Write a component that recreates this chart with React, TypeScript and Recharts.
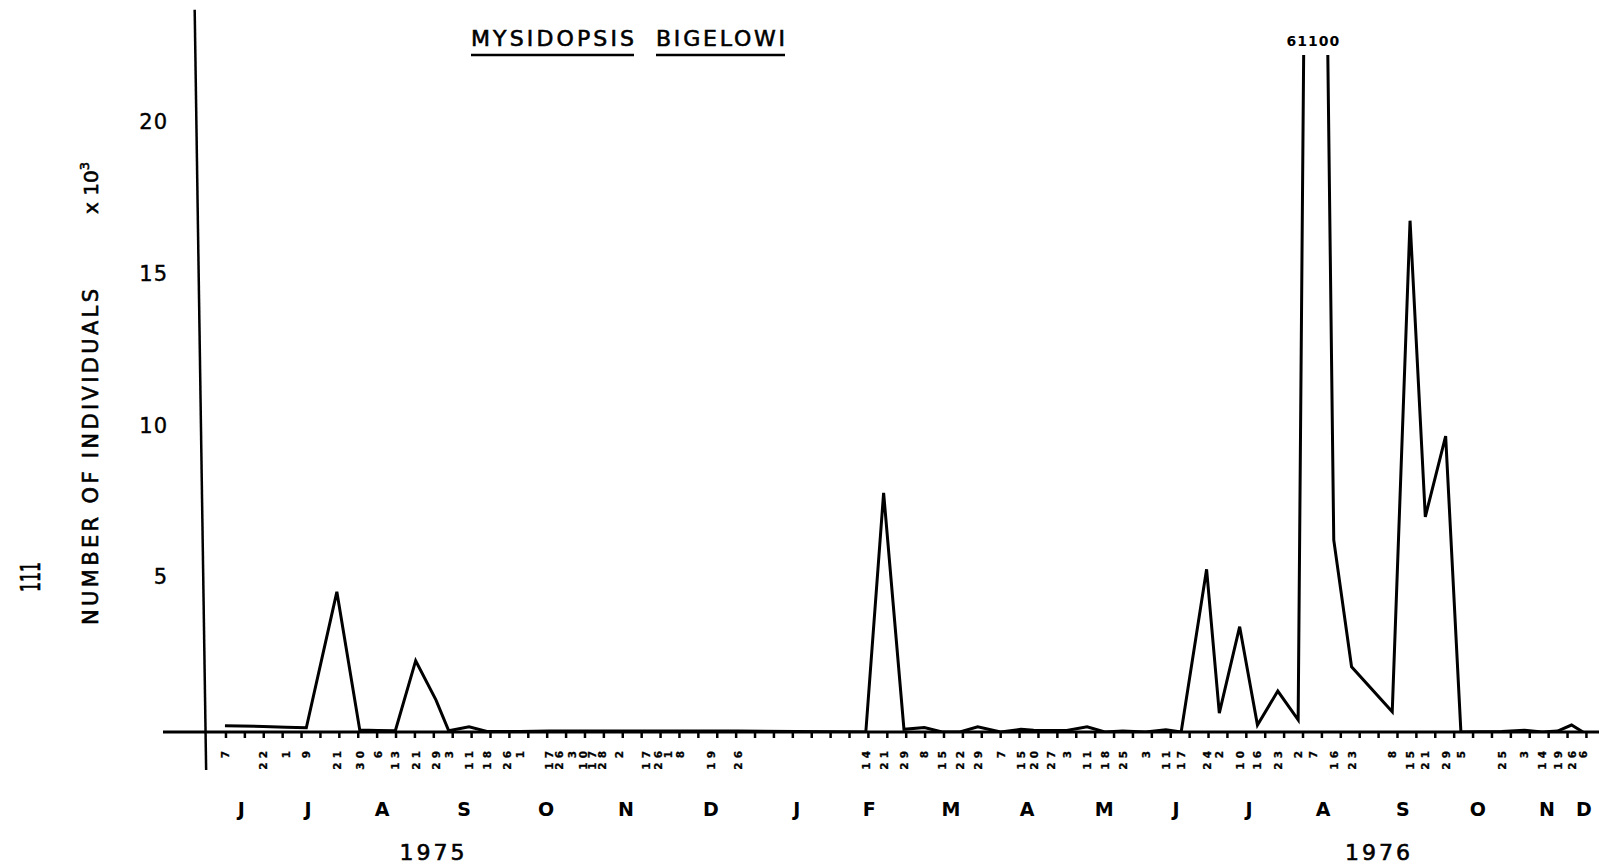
import React from 'react';
import { LineChart, Line, XAxis, YAxis, ReferenceLine, ReferenceDot } from 'recharts';

// Sampling dates (day of month), June 1975 – December 1976
const dateLabels: string[] = [
  '7', '22', '1', '9', '21', '30', '6', '13', '21', '29', '3', '11', '18', '26', '1',
  '17', '26', '3', '10', '17', '28', '2', '17', '26',
  '1', '8', '19', '26',
  '14', '21', '29', '8', '15', '22', '29', '7', '15', '20', '27', '3', '11', '18', '25',
  '3', '11', '17', '24', '2', '10', '16', '23', '2', '7', '16', '23', '8', '15', '21', '29',
  '5', '25', '3', '14', '19', '26', '6',
];

// Plotted position of each sample, in days after 1 June 1975
const plotDays: number[] = [
  6, 21, 30, 38, 50, 59, 66, 73, 81, 89, 94, 102, 109, 117, 122,
  133.4, 137.4, 142.5, 146.8, 150.3, 154.3, 161, 171.5, 176.3,
  180.2, 184.9, 197.1, 207.7,
  258, 265, 273, 281, 288, 295, 302, 311, 319, 324, 331, 337, 345, 352, 359,
  368, 376, 382, 392, 397, 405, 412, 420, 428, 434, 442, 449, 465, 472, 478, 486,
  492, 508, 517, 524, 530, 535.5, 540,
];

// Number of individuals (x 10^3)
const counts: number[] = [
  0.21, 0.18, 0.16, 0.14, 4.62, 0.07, 0.05, 0.04, 2.35, 1.05, 0.04, 0.17, 0.02, 0.02, 0.02,
  0.03, 0.03, 0.03, 0.03, 0.03, 0.03, 0.03, 0.03, 0.03,
  0.03, 0.03, 0.03, 0.03,
  0.0, 7.88, 0.09, 0.15, 0.0, 0.0, 0.17, 0.0, 0.09, 0.06, 0.05, 0.05, 0.17, 0.0, 0.03,
  0.0, 0.07, 0.0, 5.36, 0.62, 3.47, 0.23, 1.35, 0.4, 61.1, 6.33, 2.15, 0.67, 16.85, 7.09, 9.75,
  0.0, 0.02, 0.06, 0.0, 0.03, 0.23, 0.0,
];

const monthLetters: string[] = ['J', 'J', 'A', 'S', 'O', 'N', 'D', 'J', 'F', 'M', 'A', 'M', 'J', 'J', 'A', 'S', 'O', 'N', 'D'];
const monthDays: number[] = [12.4, 38.7, 67.8, 100, 132.3, 163.7, 197.1, 230.9, 259.3, 291.5, 321.4, 351.7, 380, 408.7, 437.8, 469.2, 498.7, 525.8, 540.4];

const yearLabels: string[] = ['1975', '1976'];
const yearDays: number[] = [88, 459.8];

const yTicks: number[] = [5, 10, 15, 20];

const X_MIN = -18.36;
const X_MAX = 546.3;
const Y_MAX = 22.31;

// evenly spaced tick marks along the time axis
const TICK_START = 6.4;
const TICK_STEP = 7.43;
const TICK_COUNT = 73;
const tickMarks: number[] = Array.from({ length: TICK_COUNT }, (_, i) => +(TICK_START + i * TICK_STEP).toFixed(2));

const data = plotDays.map((day, i) => ({ day, count: counts[i], label: dateLabels[i] }));
const peak = data.reduce((a, b) => (b.count > a.count ? b : a));

const FONT = 'DejaVu Sans';

const EmptyTick = () => <g />;

const DateTick = (props: any) => {
  const { x, y, index } = props;
  const y0 = y + 3;
  return (
    <text
      x={x}
      y={y0}
      transform={`rotate(-90 ${x} ${y0})`}
      textAnchor="end"
      dominantBaseline="central"
      fontFamily={FONT}
      fontWeight="bold"
      fontSize={10.5}
      letterSpacing={4}
      fill="#000"
      stroke="#000"
      strokeWidth={0.3}
    >
      {dateLabels[index]}
    </text>
  );
};

const MonthTick = (props: any) => {
  const { x, y, index } = props;
  return (
    <text x={x} y={y + 22} textAnchor="middle" fontFamily={FONT} fontWeight="bold" fontSize={19} fill="#000">
      {monthLetters[index]}
    </text>
  );
};

const YearTick = (props: any) => {
  const { x, y, index } = props;
  return (
    <text
      x={x}
      y={y + 31}
      textAnchor="middle"
      fontFamily={FONT}
      fontSize={22}
      letterSpacing={3}
      fill="#000"
      stroke="#000"
      strokeWidth={0.6}
    >
      {yearLabels[index]}
    </text>
  );
};

const YTick = (props: any) => {
  const { x, y, payload } = props;
  return (
    <text
      x={x + 5}
      y={y - 3}
      textAnchor="end"
      dominantBaseline="central"
      fontFamily={FONT}
      fontSize={21}
      letterSpacing={1}
      fill="#000"
      stroke="#000"
      strokeWidth={0.4}
    >
      {payload.value}
    </text>
  );
};

const axisCommon = {
  type: 'number' as const,
  dataKey: 'day',
  domain: [X_MIN, X_MAX] as [number, number],
  allowDataOverflow: true,
  interval: 0 as const,
};

export default function App() {
  return (
    <div style={{ position: 'absolute', left: 0, top: 0, width: 1599, height: 867, background: '#fff' }}>
      <LineChart width={1599} height={867} data={data} margin={{ top: 55, right: 0, bottom: 0, left: 123 }}>
        <XAxis
          xAxisId="d"
          {...axisCommon}
          ticks={tickMarks}
          tick={<EmptyTick />}
          tickSize={6}
          height={12}
          axisLine={{ stroke: '#000', strokeWidth: 3 }}
          tickLine={{ stroke: '#000', strokeWidth: 2.5 }}
        />
        <XAxis
          xAxisId="lab"
          {...axisCommon}
          ticks={plotDays}
          tick={DateTick}
          tickSize={0}
          tickMargin={0}
          height={50}
          axisLine={false}
          tickLine={false}
        />
        <XAxis
          xAxisId="mon"
          {...axisCommon}
          ticks={monthDays}
          tick={MonthTick}
          tickSize={0}
          tickMargin={0}
          height={35}
          axisLine={false}
          tickLine={false}
        />
        <XAxis
          xAxisId="yr"
          {...axisCommon}
          ticks={yearDays}
          tick={YearTick}
          tickSize={0}
          tickMargin={0}
          height={38}
          axisLine={false}
          tickLine={false}
        />
        <YAxis
          type="number"
          domain={[0, Y_MAX]}
          allowDataOverflow
          ticks={yTicks}
          interval={0}
          width={40}
          tickSize={0}
          tickMargin={0}
          axisLine={false}
          tickLine={false}
          tick={YTick}
        />
        <ReferenceLine
          xAxisId="d"
          segment={[{ x: -5.9, y: 23.8 }, { x: -1.4, y: -1.25 }]}
          ifOverflow="visible"
          stroke="#000"
          strokeWidth={2.5}
        />
        <Line
          xAxisId="d"
          type="linear"
          dataKey="count"
          stroke="#000"
          strokeWidth={3}
          dot={false}
          isAnimationActive={false}
        />
        <ReferenceDot
          xAxisId="d"
          x={peak.day}
          y={Y_MAX}
          r={0}
          ifOverflow="visible"
          label={{
            value: String(Math.round(peak.count * 1000)),
            position: 'top',
            offset: 9,
            fill: '#000',
            fontSize: 14,
            fontWeight: 'bold',
            fontFamily: FONT,
            letterSpacing: 1,
          }}
        />
      </LineChart>
      <svg
        width={1599}
        height={867}
        style={{ position: 'absolute', left: 0, top: 0, pointerEvents: 'none' }}
      >
        <g fontFamily={FONT} fill="#000" stroke="#000" strokeWidth={0.6}>
          <text x={471} y={46} fontSize={22} textLength={163} lengthAdjust="spacing">MYSIDOPSIS</text>
          <text x={656} y={46} fontSize={22} textLength={129} lengthAdjust="spacing">BIGELOWI</text>
          <line x1={471} y1={55} x2={634} y2={55} strokeWidth={2.5} />
          <line x1={656} y1={55} x2={785} y2={55} strokeWidth={2.5} />
          <text
            x={91}
            y={625}
            transform="rotate(-90 91 625)"
            dominantBaseline="central"
            fontSize={21}
            textLength={336}
            lengthAdjust="spacing"
          >
            NUMBER OF INDIVIDUALS
          </text>
          <text x={91} y={214} transform="rotate(-90 91 214)" dominantBaseline="central" fontSize={20}>
            x 10<tspan dy={-7} fontSize={13}>3</tspan>
          </text>
          <text
            x={30}
            y={577}
            transform="rotate(-90 30 577)"
            textAnchor="middle"
            dominantBaseline="central"
            fontSize={27}
            textLength={30}
            lengthAdjust="spacingAndGlyphs"
          >
            111
          </text>
        </g>
      </svg>
    </div>
  );
}
